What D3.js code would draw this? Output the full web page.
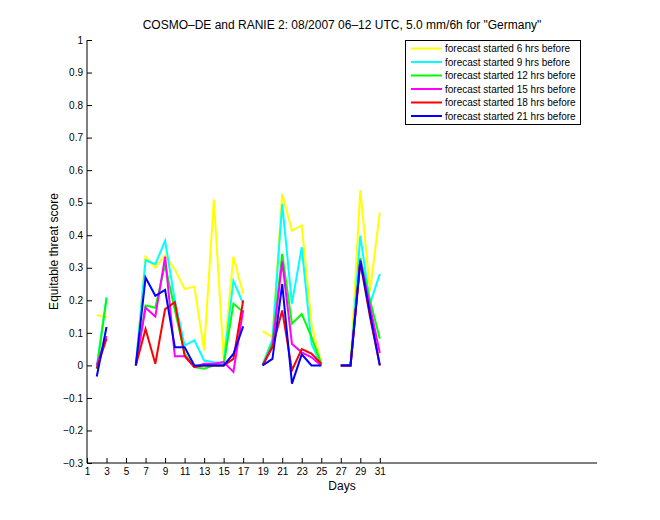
<!DOCTYPE html>
<html>
<head>
<meta charset="utf-8">
<script src="https://cdn.jsdelivr.net/npm/d3@7"></script>
<style>
  body { margin: 0; background: #fff; }
  svg { display: block; font-family: "Liberation Sans", Arial, Helvetica, sans-serif; }
</style>
</head>
<body>
<svg id="chart" width="660" height="520"></svg>
<script>
const days = d3.range(1, 32);
const xTicks = [1,3,5,7,9,11,13,15,17,19,21,23,25,27,29,31];
const yTicks = [-0.3,-0.2,-0.1,0,0.1,0.2,0.3,0.4,0.5,0.6,0.7,0.8,0.9,1];

const seriesNames = [
  "forecast started 6 hrs before",
  "forecast started 9 hrs before",
  "forecast started 12 hrs before",
  "forecast started 15 hrs before",
  "forecast started 18 hrs before",
  "forecast started 21 hrs before"
];
const seriesColors = ["#ffff00", "#00ffff", "#00ff00", "#ff00ff", "#ff0000", "#0000ff"];

const fc6  = [null, 0.155, 0.148, null, null, 0, 0.334, 0.300, 0.339, 0.295, 0.235, 0.242, 0.046, 0.510, 0.020, 0.334, 0.220, null, 0.105, 0.087, 0.527, 0.414, 0.430, 0.128, 0.005, null, 0, 0, 0.539, 0.230, 0.470];
const fc9  = [null, -0.005, 0.210, null, null, 0, 0.323, 0.311, 0.383, 0.200, 0.061, 0.077, 0.015, 0.010, 0.007, 0.260, 0.190, null, 0.005, 0.080, 0.496, 0.190, 0.363, 0.066, 0.000, null, 0, 0, 0.399, 0.190, 0.281];
const fc12 = [null, -0.010, 0.205, null, null, 0, 0.184, 0.177, 0.310, 0.170, 0.036, -0.005, -0.010, 0.000, 0.000, 0.190, 0.164, null, 0, 0.070, 0.343, 0.128, 0.158, 0.087, 0.005, null, 0, 0, 0.330, 0.200, 0.082];
const fc15 = [null, 0.000, 0.090, null, null, 0, 0.177, 0.150, 0.334, 0.028, 0.028, -0.005, 0.005, 0.005, 0.010, -0.020, 0.170, null, 0, 0.060, 0.320, 0.066, 0.040, 0.025, 0.000, null, 0, 0, 0.324, 0.180, 0.038];
const fc18 = [null, -0.010, 0.082, null, null, 0, 0.112, 0.005, 0.173, 0.194, 0.030, -0.005, 0.000, 0.000, 0.000, 0.020, 0.200, null, 0, 0.056, 0.169, -0.015, 0.050, 0.036, 0.005, null, 0, 0, 0.317, 0.148, 0.000];
const fc21 = [null, -0.034, 0.118, null, null, 0, 0.270, 0.214, 0.232, 0.056, 0.056, 0.000, 0.000, 0.000, 0.000, 0.035, 0.120, null, 0, 0.020, 0.250, -0.056, 0.034, 0.000, 0.000, null, 0, 0, 0.322, 0.158, 0.000];

const seriesValues = [fc6, fc9, fc12, fc15, fc18, fc21];

const svg = d3.select("#chart");
svg.append("rect").attr("width", 660).attr("height", 520).attr("fill", "#fff");

const mLeft = 87, mRight = 597, mTop = 40, mBottom = 463;
const x = d3.scaleLinear().domain([1, 53.25]).range([mLeft, mRight]);
const y = d3.scaleLinear().domain([-0.3, 1]).range([mBottom, mTop]);

const fmtY = v => (Math.abs(v) < 1e-9 ? "0" : (v === 1 ? "1" : d3.format(".1f")(v).replace("-", "\u2013")));

// Y axis
const yAxis = d3.axisLeft(y).tickValues(yTicks).tickSize(-5).tickPadding(4).tickFormat(fmtY);
const gy = svg.append("g").attr("transform", `translate(${mLeft},0)`).call(yAxis);
gy.select(".domain").attr("stroke", "#000").attr("d", `M0,${mBottom}V${mTop}`);
gy.selectAll("text").attr("font-size", 10).attr("fill", "#000");

// X axis
const xAxis = d3.axisBottom(x).tickValues(xTicks).tickSize(-5).tickPadding(5).tickFormat(d3.format("d"));
const gx = svg.append("g").attr("transform", `translate(0,${mBottom})`).call(xAxis);
gx.select(".domain").attr("stroke", "#000").attr("d", `M${mLeft},0H${mRight}`);
gx.selectAll("text").attr("font-size", 10).attr("fill", "#000");

// Lines
const line = d3.line()
  .defined(d => d.v !== null)
  .x(d => x(d.day))
  .y(d => y(d.v));

seriesValues.forEach((vals, i) => {
  const pts = days.map((d, j) => ({ day: d, v: vals[j] }));
  svg.append("path")
    .datum(pts)
    .attr("fill", "none")
    .attr("stroke", seriesColors[i])
    .attr("stroke-width", 2)
    .attr("stroke-linejoin", "miter")
    .attr("d", line);
});

// Title and labels
svg.append("text").attr("x", (mLeft + mRight) / 2).attr("y", 29)
  .attr("text-anchor", "middle").attr("font-size", 12)
  .text('COSMO\u2013DE and RANIE 2: 08/2007 06\u201312 UTC, 5.0 mm/6h for "Germany"');

svg.append("text").attr("x", (mLeft + mRight) / 2).attr("y", 490)
  .attr("text-anchor", "middle").attr("font-size", 12).text("Days");

svg.append("text").attr("transform", `translate(58,${(mTop + mBottom) / 2}) rotate(-90)`)
  .attr("text-anchor", "middle").attr("font-size", 12).text("Equitable threat score");

// Legend
const lg = svg.append("g");
lg.append("rect").attr("x", 405.5).attr("y", 40.5).attr("width", 175).attr("height", 84)
  .attr("fill", "#fff").attr("stroke", "#000").attr("stroke-width", 1);
seriesNames.forEach((name, i) => {
  const yy = 48.5 + i * 13.5;
  lg.append("line").attr("x1", 411).attr("x2", 442).attr("y1", yy).attr("y2", yy)
    .attr("stroke", seriesColors[i]).attr("stroke-width", 2);
  lg.append("text").attr("x", 445).attr("y", yy + 3.5).attr("font-size", 10).text(name);
});
</script>
</body>
</html>
